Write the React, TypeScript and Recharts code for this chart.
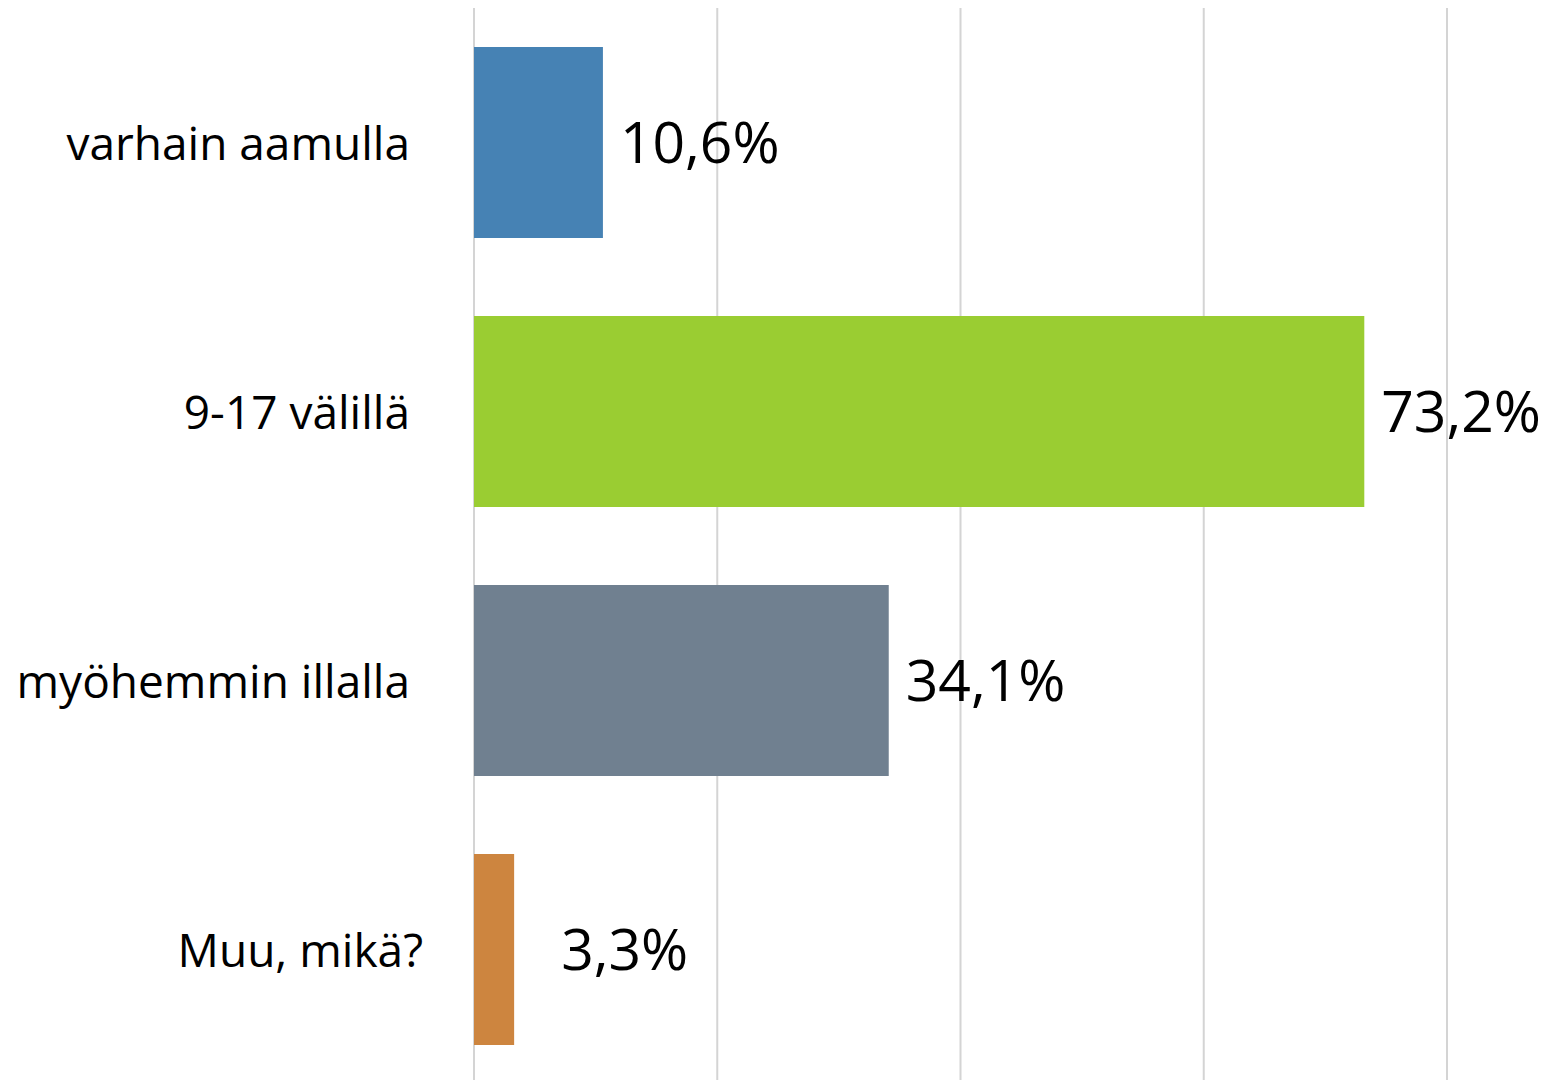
import { BarChart, Bar, XAxis, YAxis, CartesianGrid, Cell, LabelList } from 'recharts';

const categories = ['varhain aamulla', '9-17 välillä', 'myöhemmin illalla', 'Muu, mikä?'];
const shares = [10.6, 73.2, 34.1, 3.3];
const barColors = ['#4682B4', '#9ACD32', '#708090', '#CD853F'];
const xTicks = [0, 20, 40, 60, 80];

const data = categories.map((name, i) => ({ name, value: shares[i] }));

const FONT = '"Open Sans", sans-serif';

function CategoryTick(props: any) {
  const { y, payload } = props;
  // last label sits a little further right in the original
  const right = payload.index === 3 ? 415 : 402;
  return (
    <text x={right} y={y - 1} textAnchor="end" dominantBaseline="central" fontFamily={FONT} fontSize={46} fill="#000">
      {payload.value}
    </text>
  );
}

function ValueLabel(props: any) {
  const { x, y, width, height, value, index } = props;
  const gap = index === 3 ? 47 : 17;
  return (
    <text
      x={x + width + gap}
      y={y + height / 2 - 2}
      dominantBaseline="central"
      fontFamily={FONT}
      fontSize={57}
      fill="#000"
    >
      {value.toFixed(1).replace('.', ',')}%
    </text>
  );
}

export default function App() {
  return (
    <div style={{ width: 1539, height: 1072, overflow: 'hidden' }}>
      <BarChart
        width={1539}
        height={1080}
        data={data}
        layout="vertical"
        margin={{ top: 0, right: 100, bottom: 4, left: 0 }}
        barCategoryGap="14.5%"
      >
        <CartesianGrid horizontal={false} stroke="#d4d4d4" strokeWidth={2} />
        <XAxis type="number" domain={[0, 80]} ticks={xTicks} hide />
        <YAxis
          type="category"
          dataKey="name"
          width={466}
          axisLine={false}
          tickLine={false}
          tick={<CategoryTick />}
        />
        <Bar dataKey="value" isAnimationActive={false}>
          {data.map((d, i) => (
            <Cell key={d.name} fill={barColors[i]} />
          ))}
          <LabelList dataKey="value" content={<ValueLabel />} />
        </Bar>
      </BarChart>
    </div>
  );
}
